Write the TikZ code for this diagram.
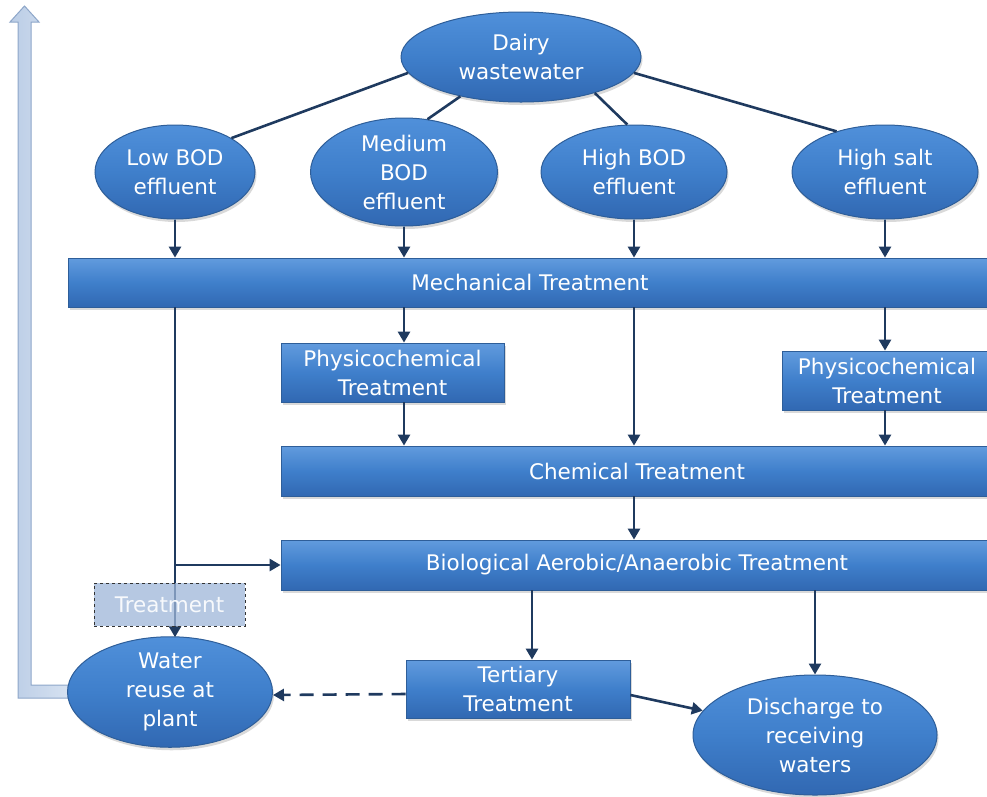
\documentclass[tikz,border=0pt]{standalone}
\usepackage{fontspec}
\setmainfont{DejaVu Sans}
\usetikzlibrary{shapes.geometric,shadows,arrows.meta}
\definecolor{edgeblue}{HTML}{2E5E99}
\definecolor{topblue}{HTML}{5090DA}
\definecolor{midblue}{HTML}{3F7FCB}
\definecolor{botblue}{HTML}{3168B2}
\definecolor{navy}{HTML}{1F3A5F}
\definecolor{palefill}{HTML}{C3D4EB}
\definecolor{paleedge}{HTML}{8DA6C9}
\definecolor{treatfill}{HTML}{9DB6D8}
\begin{document}
\begin{tikzpicture}[x=1pt,y=-1pt,
  lab/.style={text=white, align=center, font=\fontsize{21.5}{29}\selectfont, inner sep=0pt},
  ell/.style={ellipse, lab, draw=edgeblue, line width=1pt, top color=topblue, bottom color=botblue, middle color=midblue,
    drop shadow={opacity=0.3, shadow xshift=1.5pt, shadow yshift=-3pt}},
  bar/.style={rectangle, lab, draw=edgeblue, line width=0.8pt, top color=topblue!90!white, bottom color=botblue, middle color=midblue,
    drop shadow={opacity=0.3, shadow xshift=1.5pt, shadow yshift=-3pt}},
  arr/.style={draw=navy, line width=2.6pt, -{Triangle[width=12pt,length=11pt]}},
  ln/.style={draw=navy, line width=2.6pt}
]
\useasboundingbox (0,0) rectangle (987,796);

% big pale return arrow
\path[draw=paleedge, line width=1pt, left color=palefill!85!paleedge, right color=palefill!60!white]
  (18,698) -- (80,698) -- (80,685) -- (31,685) -- (31,22) -- (39,22) -- (24.5,6) -- (10,22) -- (18,22) -- cycle;

% nodes
\node[ell, minimum width=240pt, minimum height=90pt] (dairy) at (521,57) {Dairy\\wastewater};
\node[ell, minimum width=160pt, minimum height=94pt] (low) at (175,172) {Low BOD\\effluent};
\node[ell, minimum width=187pt, minimum height=108pt] (med) at (404,172) {Medium\\BOD\\effluent};
\node[ell, minimum width=186pt, minimum height=94pt] (high) at (634,172) {High BOD\\effluent};
\node[ell, minimum width=186pt, minimum height=94pt] (salt) at (885,172) {High salt\\effluent};

\node[bar, minimum width=924pt, minimum height=49pt] (mech) at (530,282.5) {Mechanical Treatment};
\node[bar, minimum width=223pt, minimum height=59pt] (physL) at (392.5,372.5) {Physicochemical\\Treatment};
\node[bar, minimum width=210pt, minimum height=59pt] (physR) at (887,380.5) {Physicochemical\\Treatment};
\node[bar, minimum width=712pt, minimum height=50pt] (chem) at (637,471) {Chemical Treatment};
\node[bar, minimum width=712pt, minimum height=50pt] (bio) at (637,565) {Biological Aerobic/Anaerobic Treatment};
\node[bar, minimum width=224pt, minimum height=58pt] (tert) at (518,689) {Tertiary\\Treatment};
\node[ell, minimum width=205pt, minimum height=98pt] (water) at (170,692) {Water\\reuse at\\plant};
\node[ell, minimum width=244pt, minimum height=120pt] (disch) at (815,735) {Discharge to\\receiving\\waters};

% dairy to effluents
\draw[ln] (dairy.188.8) -- (low.31.7);
\draw[ln] (dairy.213) -- (med.66);
\draw[ln] (dairy.334.5) -- (high.98);
\draw[ln] (dairy.352) -- (salt.140);

% effluents to mechanical
\draw[arr] (low.south) -- (low.south |- mech.north);
\draw[arr] (med.south) -- (med.south |- mech.north);
\draw[arr] (high.south) -- (high.south |- mech.north);
\draw[arr] (salt.south) -- (salt.south |- mech.north);

% mechanical down
\draw[arr] (mech.south -| med.south) -- (physL.north -| med.south);
\draw[arr] (mech.south -| high.south) -- (chem.north -| high.south);
\draw[arr] (mech.south -| salt.south) -- (physR.north -| salt.south);
\draw[arr] (physL.south -| med.south) -- (chem.north -| med.south);
\draw[arr] (physR.south -| salt.south) -- (chem.north -| salt.south);
\draw[arr] (chem.south -| high.south) -- (bio.north -| high.south);

% left line to water reuse, with branch to biological
\coordinate (br) at (low.south |- bio.west);
\draw[arr] (mech.south -| low.south) -- ([yshift=-1pt]water.north -| low.south);
\draw[arr] (br) -- (bio.west);

% dashed treatment box (semi-transparent, over the line)
\node[rectangle, draw=black!80, dashed, line width=1pt, fill=treatfill, fill opacity=0.75, text opacity=1,
  minimum width=151pt, minimum height=43pt, text=white!92!treatfill, font=\fontsize{21.5}{29}\selectfont, inner sep=0pt]
  (treat) at (169.5,604.5) {Treatment};

% biological down
\draw[arr] ([xshift=14pt]bio.south -| tert.north) -- ([xshift=14pt]tert.north);
\draw[arr] (bio.south -| disch.north) -- (disch.north);
\draw[arr] ([yshift=-6pt]tert.east) -- (disch);
\draw[arr, dashed, dash pattern=on 14pt off 9pt] ([yshift=-5pt]tert.west) -- ([yshift=-3pt]water.east);
\end{tikzpicture}
\end{document}
